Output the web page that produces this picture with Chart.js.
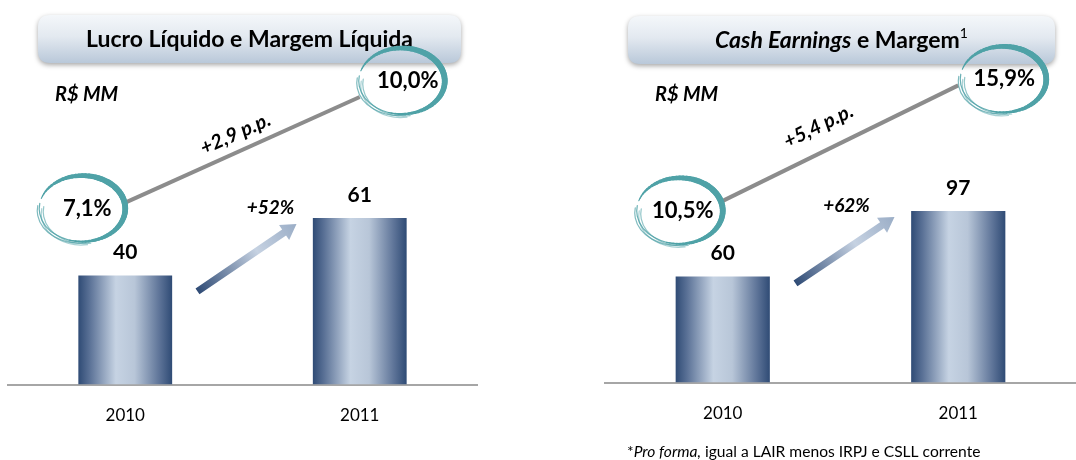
<!DOCTYPE html>
<html>
<head>
<meta charset="utf-8">
<script src="https://cdn.jsdelivr.net/npm/chart.js@4.4.0/dist/chart.umd.min.js"></script>
<style>
  body { margin: 0; background: #fff; }
  .box { position: absolute; top: 0; width: 538px; height: 460px; }
</style>
</head>
<body>
<div class="box" style="left:0"><canvas id="lucroChart" width="538" height="460"></canvas></div>
<div class="box" style="left:538px"><canvas id="cashChart" width="538" height="460"></canvas></div>
<script>
// data
const years = ["2010", "2011"];
const lucroLiquido = [40, 61];        // R$ MM
const margemLiquida = [7.1, 10.0];    // %
const cashEarnings = [60, 97];        // R$ MM
const margemCash = [10.5, 15.9];      // %
const lucroGrowth = "+52%";
const cashGrowth = "+62%";
const lucroMarginDelta = "+2,9 p.p.";
const cashMarginDelta = "+5,4 p.p.";

const FONT = "Lato, 'Open Sans', sans-serif";

function fmtPct(v) {
  return v.toFixed(1).replace(".", ",") + "%";
}

function roundRectPath(ctx, x, y, w, h, r) {
  ctx.beginPath();
  ctx.moveTo(x + r, y);
  ctx.lineTo(x + w - r, y);
  ctx.quadraticCurveTo(x + w, y, x + w, y + r);
  ctx.lineTo(x + w, y + h - r);
  ctx.quadraticCurveTo(x + w, y + h, x + w - r, y + h);
  ctx.lineTo(x + r, y + h);
  ctx.quadraticCurveTo(x, y + h, x, y + h - r);
  ctx.lineTo(x, y + r);
  ctx.quadraticCurveTo(x, y, x + r, y);
  ctx.closePath();
}

// draws a list of text runs ({t, f, dy}) starting at x
function drawRuns(ctx, runs, x, y, align) {
  let total = 0;
  runs.forEach((r) => { ctx.font = r.f; total += ctx.measureText(r.t).width; });
  let cx = align === "center" ? x - total / 2 : x;
  ctx.textAlign = "left";
  ctx.textBaseline = "middle";
  runs.forEach((r) => {
    ctx.font = r.f;
    ctx.fillText(r.t, cx, y + (r.dy || 0));
    cx += ctx.measureText(r.t).width;
  });
}

function drawTitleBox(ctx, b, runs) {
  ctx.save();
  ctx.shadowColor = "rgba(0,0,0,0.35)";
  ctx.shadowBlur = 5;
  ctx.shadowOffsetY = 2;
  const g = ctx.createLinearGradient(0, b.y, 0, b.y + b.h);
  g.addColorStop(0, "#f4f7fa");
  g.addColorStop(0.45, "#e3e9f0");
  g.addColorStop(1, "#b9c8d9");
  ctx.fillStyle = g;
  roundRectPath(ctx, b.x, b.y, b.w, b.h, 12);
  ctx.fill();
  ctx.restore();
  ctx.save();
  ctx.fillStyle = "#000";
  drawRuns(ctx, runs, b.x + b.w / 2, b.y + b.h / 2 + 1, "center");
  ctx.restore();
}

function drawSwoosh(ctx, cx, cy) {
  const rx = 43, ry = 33;
  ctx.save();
  ctx.strokeStyle = "#4fa2a7";
  ctx.lineCap = "round";
  // thin streaks lower left
  ctx.lineWidth = 1.2;
  [[0, 0], [-3, 2], [2, 3], [-1, 5]].forEach(([dx, dy], i) => {
    ctx.globalAlpha = 0.85 - i * 0.12;
    ctx.beginPath();
    ctx.ellipse(cx + dx, cy + dy, rx - i, ry - i * 0.5, 0, Math.PI * 0.45, Math.PI * 1.05);
    ctx.stroke();
  });
  ctx.globalAlpha = 1;
  // main thick arc, tapering at both ends
  const a0 = Math.PI * 1.1, a1 = Math.PI * 2.6, n = 60;
  for (let i = 0; i < n; i++) {
    const t0 = a0 + (a1 - a0) * i / n;
    const t1 = a0 + (a1 - a0) * (i + 1) / n;
    ctx.lineWidth = 1 + 5 * Math.sin(Math.PI * (i + 0.5) / n);
    ctx.beginPath();
    ctx.ellipse(cx, cy, rx, ry, 0, t0, t1);
    ctx.stroke();
  }
  ctx.restore();
}

function drawArrow(ctx, x1, y1, x2, y2) {
  const ang = Math.atan2(y2 - y1, x2 - x1);
  const len = Math.hypot(x2 - x1, y2 - y1);
  ctx.save();
  ctx.translate(x1, y1);
  ctx.rotate(ang);
  const g = ctx.createLinearGradient(0, 0, len, 0);
  g.addColorStop(0, "#2f4b75");
  g.addColorStop(0.6, "#c6d2e2");
  g.addColorStop(1, "#9aadc6");
  ctx.fillStyle = g;
  const hw = 3.5, hl = 15, hh = 9;
  ctx.beginPath();
  ctx.moveTo(0, -hw);
  ctx.lineTo(len - hl, -hw);
  ctx.lineTo(len - hl, -hh);
  ctx.lineTo(len, 0);
  ctx.lineTo(len - hl, hh);
  ctx.lineTo(len - hl, hw);
  ctx.lineTo(0, hw);
  ctx.closePath();
  ctx.fill();
  ctx.restore();
}

const decorPlugin = {
  id: "decor",
  beforeDatasetsDraw(chart) {
    // horizontal "cylinder" gradient on each bar
    const ctx = chart.ctx;
    chart.getDatasetMeta(0).data.forEach((bar) => {
      const l = bar.x - bar.width / 2, r = bar.x + bar.width / 2;
      const g = ctx.createLinearGradient(l, 0, r, 0);
      g.addColorStop(0, "#2f4b75");
      g.addColorStop(0.12, "#5a7196");
      g.addColorStop(0.4, "#c6d3e3");
      g.addColorStop(0.6, "#b8c6d8");
      g.addColorStop(0.86, "#5f7599");
      g.addColorStop(1, "#2f4b75");
      bar.options = Object.assign({}, bar.options, { backgroundColor: g });
    });
  },
  afterDatasetsDraw(chart, args, o) {
    const ctx = chart.ctx;
    const bars = chart.getDatasetMeta(0).data;
    const pts = chart.getDatasetMeta(1).data;
    const barVals = chart.data.datasets[0].data;
    const pctVals = chart.data.datasets[1].data;

    drawTitleBox(ctx, o.titleBox, o.titleRuns);

    ctx.save();
    ctx.fillStyle = "#000";
    ctx.font = "italic bold 20px " + FONT;
    ctx.textAlign = "left";
    ctx.textBaseline = "middle";
    ctx.fillText("R$ MM", o.unitPos[0], o.unitPos[1]);

    // bar value labels
    ctx.font = "bold 21px " + FONT;
    ctx.textAlign = "center";
    bars.forEach((bar, i) => ctx.fillText(String(barVals[i]), bar.x, bar.y - 23));

    // margin circles
    pts.forEach((p, i) => {
      const [dx, dy] = o.circleOffsets[i];
      drawSwoosh(ctx, p.x + dx, p.y + dy);
      ctx.fillStyle = "#000";
      ctx.font = "bold 22px " + FONT;
      ctx.textAlign = "center";
      ctx.textBaseline = "middle";
      ctx.fillText(fmtPct(pctVals[i]), p.x + dx + o.textShift[i], p.y + dy);
    });

    // margin delta, rotated along the line
    const p0 = pts[0], p1 = pts[1];
    const ang = Math.atan2(p1.y - p0.y, p1.x - p0.x);
    ctx.save();
    ctx.translate((p0.x + p1.x) / 2 + o.deltaOffset[0], (p0.y + p1.y) / 2 + o.deltaOffset[1]);
    ctx.rotate(ang);
    ctx.font = "italic bold 20px " + FONT;
    ctx.fillText(o.deltaLabel, 0, 0);
    ctx.restore();

    // growth arrow between the bars
    const mid = (bars[0].x + bars[1].x) / 2;
    const tail = [mid - 45, bars[0].y + o.arrowDy[0]];
    const head = [mid + 54, bars[1].y + o.arrowDy[1]];
    drawArrow(ctx, tail[0], tail[1], head[0], head[1]);
    ctx.fillStyle = "#000";
    ctx.font = "italic bold 19px " + FONT;
    ctx.fillText(o.growthLabel, mid + o.growthOffset[0], head[1] + o.growthOffset[1]);

    if (o.footnote) {
      drawRuns(ctx, o.footnote, o.footnotePos[0], o.footnotePos[1], "left");
    }
    ctx.restore();
  }
};

function buildChart(id, barData, pctData, cfg) {
  return new Chart(document.getElementById(id), {
    type: "bar",
    data: {
      labels: years,
      datasets: [
        {
          type: "bar",
          data: barData,
          yAxisID: "y",
          backgroundColor: "#5d7396",
          barPercentage: 0.5,
          categoryPercentage: 0.8,
          order: 2
        },
        {
          type: "line",
          data: pctData,
          yAxisID: "y2",
          borderColor: "#8c8c8c",
          borderWidth: 4,
          pointRadius: 0,
          order: 1
        }
      ]
    },
    options: {
      responsive: false,
      animation: false,
      layout: { padding: cfg.padding },
      plugins: {
        legend: { display: false },
        tooltip: { enabled: false },
        decor: cfg
      },
      scales: {
        x: {
          grid: { display: false, drawTicks: false },
          border: { display: true, color: "#a6a6a6", width: 2 },
          ticks: { color: "#000", font: { family: FONT, size: 17 }, padding: 21 }
        },
        y: { display: false, min: 0, max: cfg.yMax },
        y2: { display: false, min: cfg.y2Min, max: cfg.y2Max }
      }
    },
    plugins: [decorPlugin]
  });
}

buildChart("lucroChart", lucroLiquido, margemLiquida, {
  padding: { left: 8, right: 61, top: 57, bottom: 13 },
  yMax: 120,
  y2Min: 2.1,
  y2Max: 11.1,
  titleBox: { x: 38, y: 15, w: 423, h: 48 },
  titleRuns: [{ t: "Lucro Líquido e Margem Líquida", f: "bold 23px " + FONT }],
  unitPos: [55, 95],
  circleOffsets: [[-43, 6], [42, -16]],
  textShift: [5, 6],
  deltaLabel: lucroMarginDelta,
  deltaOffset: [-7, -16],
  arrowDy: [16, 6],
  growthLabel: lucroGrowth,
  growthOffset: [28, -16]
});

buildChart("cashChart", cashEarnings, margemCash, {
  padding: { left: 67, right: 0, top: 64, bottom: 15 },
  yMax: 180,
  y2Min: 2.0,
  y2Max: 16.9,
  titleBox: { x: 90, y: 16, w: 427, h: 48 },
  titleRuns: [
    { t: "Cash Earnings", f: "italic bold 23px " + FONT },
    { t: " e Margem", f: "bold 23px " + FONT },
    { t: "1", f: "14px " + FONT, dy: -8 }
  ],
  unitPos: [117, 95],
  circleOffsets: [[-43, 10], [45, -6]],
  textShift: [3, 1],
  deltaLabel: cashMarginDelta,
  deltaOffset: [-22, -17],
  arrowDy: [7, 6],
  growthLabel: cashGrowth,
  growthOffset: [6, -11],
  footnote: [
    { t: "*", f: "15.6px " + FONT },
    { t: "Pro forma,", f: "italic 15.6px " + FONT },
    { t: " igual a LAIR menos IRPJ e CSLL corrente", f: "15.6px " + FONT }
  ],
  footnotePos: [89, 452]
});
</script>
</body>
</html>
